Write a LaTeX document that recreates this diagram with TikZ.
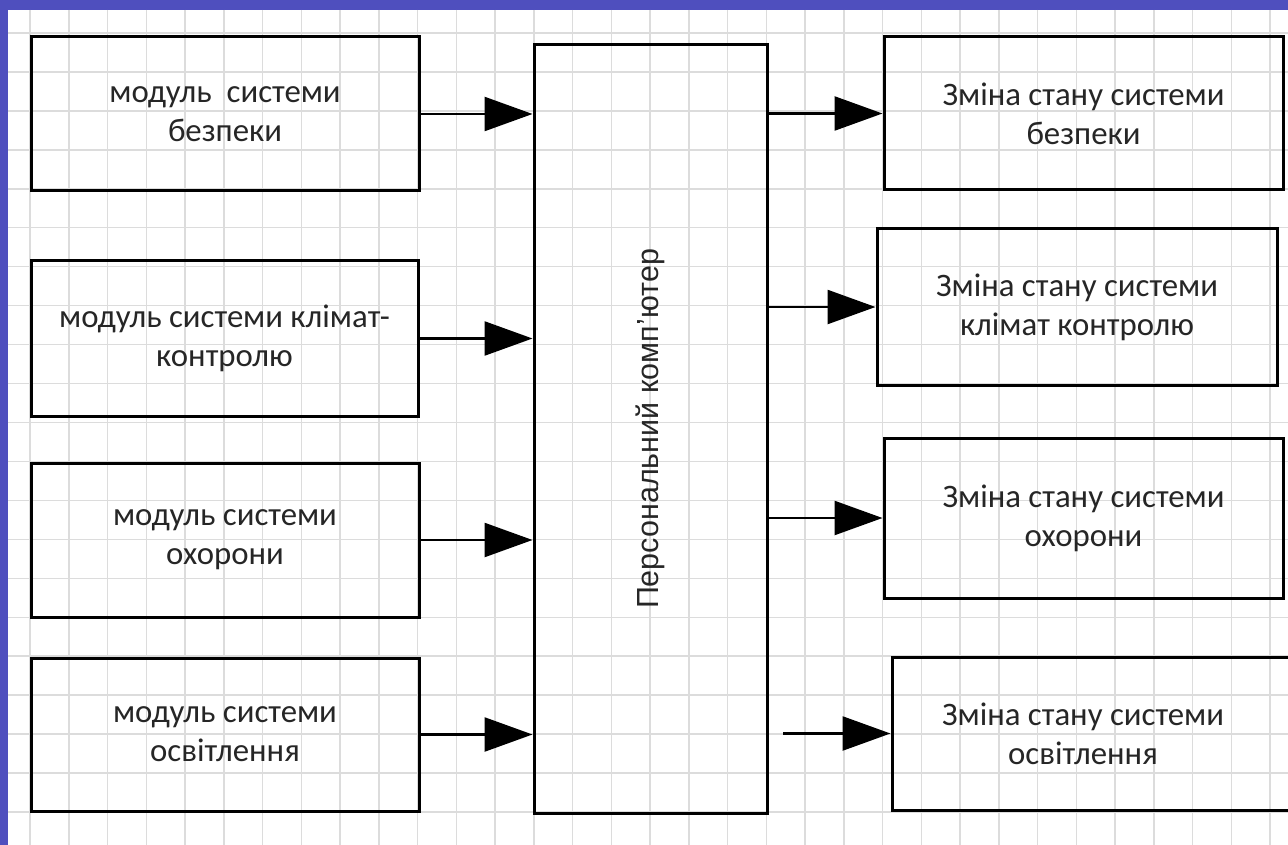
\documentclass[tikz,border=0pt]{standalone}
\usepackage{fontspec}
\setmainfont{Carlito}
\newfontfamily\pcfont{Liberation Sans}
\usepackage{graphicx}
\usepackage{xcolor}
\definecolor{cSlide}{HTML}{4F4FBE}
\definecolor{cGrid}{HTML}{DCDCDC}
\definecolor{cLine}{HTML}{000000}
\definecolor{cText}{HTML}{262626}
\usepackage{tikz}
\usetikzlibrary{arrows.meta}
\tikzset{
  node-box/.style={draw=cLine,line width=3pt,inner sep=0pt,align=center,
    text=cText,font=\fontsize{32.8}{39}\selectfont},
  node-pc/.style={draw=cLine,line width=3pt,inner sep=0pt,text=cText,
    font=\pcfont\fontsize{30.5}{36}\selectfont},
  % great black heads, as in the slide
  arrow/.style={-{Triangle[length=48pt,width=34pt]},line width=2.5pt,draw=cLine},
  grid-line/.style={draw=cGrid,line width=1.5pt},
}

\begin{document}
\begin{tikzpicture}[x=1pt,y=-1pt]
  \useasboundingbox (0,0) rectangle (1288,845);
  \fill[cSlide] (0,0) rectangle (1288,845);
  \fill[white] (8,10) rectangle (1288,845);
  \begin{scope}
    \clip (8,10) rectangle (1288,845);
    \foreach \gx in {0,...,33}
      \draw[grid-line] ({30+38.75*\gx},10) -- ({30+38.75*\gx},845);
    \foreach \gy in {0,...,21}
      \draw[grid-line] (8,{33+38.95*\gy}) -- (1288,{33+38.95*\gy});
  \end{scope}

  \node[node-box,minimum width=388pt,minimum height=154pt] (l1) at (225,114)
       {модуль\ \ системи\\безпеки};
  \node[node-box,minimum width=387pt,minimum height=155pt] (l2) at (224.5,338.5)
       {модуль системи клімат-\\контролю};
  \node[node-box,minimum width=388pt,minimum height=154pt] (l3) at (225,540)
       {модуль системи\\охорони};
  \node[node-box,minimum width=388pt,minimum height=153pt] (l4) at (225,734.5)
       {модуль системи\\освітлення};
  \node[node-pc,minimum width=233pt,minimum height=768pt] (pc) at (650.5,429)
       {\rotatebox{90}{Персональний комп’ютер}};
  \node[node-box,minimum width=399pt,minimum height=153pt] (r1) at (1083.5,113.5)
       {Зміна стану системи\\безпеки};
  \node[node-box,minimum width=400pt,minimum height=156pt] (r2) at (1077,307)
       {Зміна стану системи\\клімат контролю};
  \node[node-box,minimum width=399pt,minimum height=160pt] (r3) at (1083.5,518)
       {Зміна стану системи\\охорони};
  \node[node-box,minimum width=408pt,minimum height=153pt,
       label={[node-box,draw=none,xshift=-13pt]center:Зміна стану системи\\освітлення}]
       (r4) at (1096,733.5) {};
  \coordinate (r4in) at (783,733.5);

  \draw[arrow] (l1.east) -- (l1 -| pc.west);
  \draw[arrow] (l2.east) -- (l2 -| pc.west);
  \draw[arrow] (l3.east) -- (l3 -| pc.west);
  \draw[arrow] (l4.east) -- (l4 -| pc.west);
  \draw[arrow] (r1 -| pc.east) -- (r1.west);
  \draw[arrow] (r2 -| pc.east) -- (r2.west);
  \draw[arrow] (r3 -| pc.east) -- (r3.west);
  \draw[arrow] (r4in) -- (r4.west);
\end{tikzpicture}
\end{document}
